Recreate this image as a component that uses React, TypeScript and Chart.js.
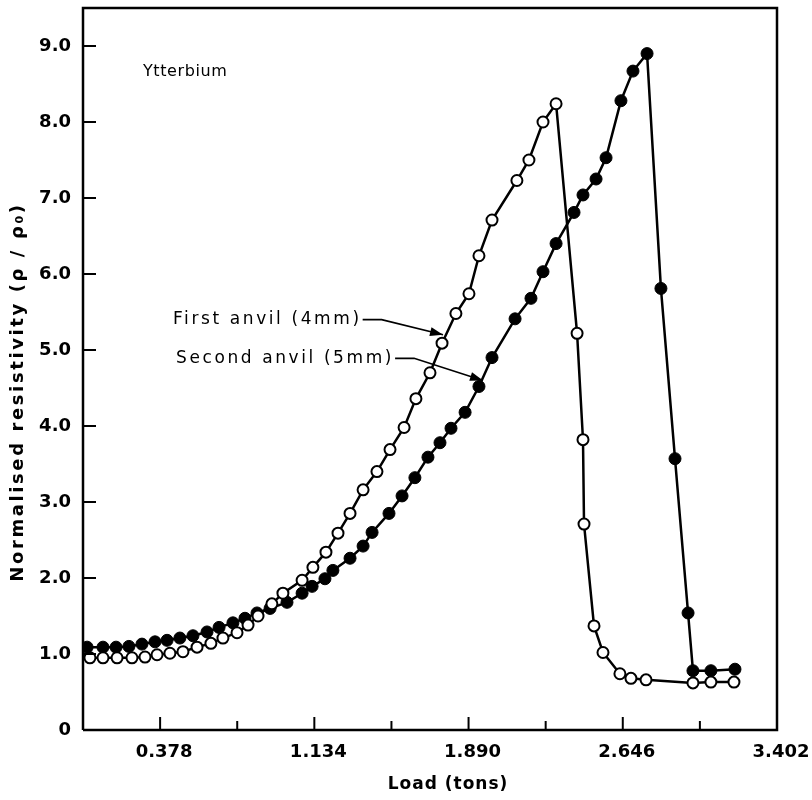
import React, { useEffect, useRef } from 'react';
import { Chart, registerables } from 'chart.js';

Chart.register(...registerables);

// ---- Data ----
const xTickValues = [0, 0.378, 0.756, 1.134, 1.512, 1.89, 2.268, 2.646, 3.024, 3.402];
const xTickLabels = ['', '0.378', '', '1.134', '', '1.890', '', '2.646', '', '3.402'];
const yTickValues = [0, 1, 2, 3, 4, 5, 6, 7, 8, 9];
const yTickLabels = ['0', '1.0', '2.0', '3.0', '4.0', '5.0', '6.0', '7.0', '8.0', '9.0'];

const firstAnvilLoad = [0.034, 0.098, 0.167, 0.24, 0.304, 0.363, 0.426, 0.49, 0.559, 0.627, 0.686, 0.755, 0.809, 0.858, 0.926, 0.98, 1.074, 1.127, 1.191, 1.25, 1.309, 1.373, 1.441, 1.505, 1.574, 1.632, 1.701, 1.76, 1.828, 1.892, 1.941, 2.005, 2.127, 2.186, 2.255, 2.319, 2.422, 2.451, 2.456, 2.505, 2.549, 2.632, 2.686, 2.76, 2.99, 3.078, 3.191];
const firstAnvilRes = [0.95, 0.95, 0.95, 0.95, 0.96, 0.99, 1.01, 1.03, 1.09, 1.14, 1.21, 1.28, 1.38, 1.5, 1.66, 1.8, 1.97, 2.14, 2.34, 2.59, 2.85, 3.16, 3.4, 3.69, 3.98, 4.36, 4.7, 5.09, 5.48, 5.74, 6.24, 6.71, 7.23, 7.5, 8.0, 8.24, 5.22, 3.82, 2.71, 1.37, 1.02, 0.74, 0.68, 0.66, 0.62, 0.63, 0.63];

const secondAnvilLoad = [0.02, 0.098, 0.162, 0.225, 0.289, 0.353, 0.412, 0.475, 0.539, 0.608, 0.667, 0.735, 0.794, 0.853, 0.917, 1.0, 1.074, 1.123, 1.186, 1.225, 1.309, 1.373, 1.417, 1.5, 1.564, 1.627, 1.691, 1.75, 1.804, 1.873, 1.941, 2.005, 2.118, 2.196, 2.255, 2.319, 2.407, 2.451, 2.515, 2.564, 2.637, 2.696, 2.765, 2.833, 2.902, 2.966, 2.99, 3.078, 3.196];
const secondAnvilRes = [1.09, 1.09, 1.09, 1.1, 1.13, 1.16, 1.18, 1.21, 1.24, 1.29, 1.35, 1.41, 1.47, 1.54, 1.6, 1.68, 1.8, 1.89, 1.99, 2.1, 2.26, 2.42, 2.6, 2.85, 3.08, 3.32, 3.59, 3.78, 3.97, 4.18, 4.52, 4.9, 5.41, 5.68, 6.03, 6.4, 6.81, 7.04, 7.25, 7.53, 8.28, 8.67, 8.9, 5.81, 3.57, 1.54, 0.78, 0.78, 0.8];

const chartTitle = 'Ytterbium';
const firstLabel = 'First anvil (4mm)';
const secondLabel = 'Second anvil (5mm)';
const xTitle = 'Load (tons)';
const yTitle = 'Normalised resistivity (\u03C1 / \u03C1\u2080)';

const toPoints = (xs: number[], ys: number[]) => xs.map((x, i) => ({ x, y: ys[i] }));

function drawArrow(ctx: CanvasRenderingContext2D, pts: [number, number][]) {
  ctx.save();
  ctx.strokeStyle = '#000';
  ctx.fillStyle = '#000';
  ctx.lineWidth = 1.6;
  ctx.beginPath();
  ctx.moveTo(pts[0][0], pts[0][1]);
  for (let i = 1; i < pts.length; i++) ctx.lineTo(pts[i][0], pts[i][1]);
  ctx.stroke();
  const [x1, y1] = pts[pts.length - 2];
  const [x2, y2] = pts[pts.length - 1];
  const ang = Math.atan2(y2 - y1, x2 - x1);
  const L = 13, W = 4.5;
  ctx.beginPath();
  ctx.moveTo(x2, y2);
  ctx.lineTo(x2 - L * Math.cos(ang) + W * Math.sin(ang), y2 - L * Math.sin(ang) - W * Math.cos(ang));
  ctx.lineTo(x2 - L * Math.cos(ang) - W * Math.sin(ang), y2 - L * Math.sin(ang) + W * Math.cos(ang));
  ctx.closePath();
  ctx.fill();
  ctx.restore();
}

const decorPlugin = {
  id: 'decor',
  afterDraw(chart: any) {
    const { ctx, chartArea } = chart;
    const xs = chart.scales.x;
    const ys = chart.scales.y;
    const { left, right, top, bottom } = chartArea;
    ctx.save();
    ctx.strokeStyle = '#000';
    // frame
    ctx.lineWidth = 2.5;
    ctx.beginPath();
    ctx.moveTo(left, bottom);
    ctx.lineTo(left, top);
    ctx.lineTo(right, top);
    ctx.lineTo(right, bottom);
    ctx.lineTo(left, bottom);
    ctx.stroke();
    // inward ticks
    ctx.lineWidth = 2;
    xTickValues.forEach((v, i) => {
      if (i === 0 || i === xTickValues.length - 1) return;
      const px = xs.getPixelForValue(v);
      const len = xTickLabels[i] ? 13 : 9;
      ctx.beginPath();
      ctx.moveTo(px, bottom);
      ctx.lineTo(px, bottom - len);
      ctx.stroke();
    });
    yTickValues.forEach((v, i) => {
      if (i === 0) return;
      const py = ys.getPixelForValue(v);
      ctx.beginPath();
      ctx.moveTo(left, py);
      ctx.lineTo(left + 13, py);
      ctx.stroke();
    });

    ctx.fillStyle = '#000';
    ctx.textBaseline = 'middle';
    // axis titles
    (ctx as any).letterSpacing = '1px';
    ctx.font = 'bold 17px "DejaVu Sans"';
    ctx.textAlign = 'center';
    ctx.fillText(xTitle, 448, 785);
    ctx.save();
    ctx.translate(18, 392);
    ctx.rotate(-Math.PI / 2);
    (ctx as any).letterSpacing = '2.6px';
    ctx.font = 'bold 18px "DejaVu Sans"';
    ctx.fillText(yTitle, 0, 0);
    ctx.restore();

    // annotations
    ctx.textAlign = 'left';
    (ctx as any).letterSpacing = '0.6px';
    ctx.font = '16px "DejaVu Sans"';
    ctx.fillText(chartTitle, xs.getPixelForValue(0.294), ys.getPixelForValue(8.66));
    (ctx as any).letterSpacing = '2.6px';
    ctx.font = '17px "DejaVu Sans"';
    const P = (x: number, y: number): [number, number] => [xs.getPixelForValue(x), ys.getPixelForValue(y)];
    const [fx, fy] = P(0.441, 5.4);
    const [sx, sy] = P(0.456, 4.89);
    ctx.fillText(firstLabel, fx, fy);
    ctx.fillText(secondLabel, sx, sy);
    const fw = ctx.measureText(firstLabel).width;
    const sw = ctx.measureText(secondLabel).width;
    (ctx as any).letterSpacing = '0px';
    const [t1x, t1y] = P(1.765, 5.2);
    const [t2x, t2y] = P(1.961, 4.6);
    drawArrow(ctx, [[fx + fw + 1, fy], [fx + fw + 20, fy], [t1x, t1y]]);
    drawArrow(ctx, [[sx + sw + 1, sy], [sx + sw + 20, sy], [t2x, t2y]]);
    ctx.restore();
  },
};

export default function App() {
  const ref = useRef<HTMLCanvasElement | null>(null);
  useEffect(() => {
    if (!ref.current) return;
    const tickFont = { family: '"DejaVu Sans"', weight: 'bold' as const, size: 18 };
    const zeroPad = (s: any) => {
      s.paddingTop = 0;
      s.paddingBottom = 0;
      s.paddingLeft = 0;
      s.paddingRight = 0;
    };
    const chart = new Chart(ref.current, {
      type: 'scatter',
      data: {
        datasets: [
          {
            label: firstLabel,
            data: toPoints(firstAnvilLoad, firstAnvilRes),
            showLine: true,
            borderColor: '#000',
            borderWidth: 2.5,
            tension: 0,
            pointRadius: 5.5,
            pointBorderWidth: 2,
            pointBackgroundColor: '#fff',
            pointBorderColor: '#000',
            order: 0,
          },
          {
            label: secondLabel,
            data: toPoints(secondAnvilLoad, secondAnvilRes),
            showLine: true,
            borderColor: '#000',
            borderWidth: 2.5,
            tension: 0,
            pointRadius: 6,
            pointBorderWidth: 1,
            pointBackgroundColor: '#000',
            pointBorderColor: '#000',
            order: 1,
          },
        ],
      },
      options: {
        animation: false,
        responsive: false,
        layout: { padding: { top: 8, right: 35, left: 0, bottom: 0 } },
        plugins: { legend: { display: false }, tooltip: { enabled: false } },
        scales: {
          x: {
            type: 'linear',
            min: 0,
            max: 3.402,
            grid: { display: false, drawTicks: false },
            border: { display: false },
            afterBuildTicks: (s: any) => {
              s.ticks = xTickValues.map((v) => ({ value: v }));
            },
            afterFit: (s: any) => {
              s.height = 70;
              zeroPad(s);
            },
            ticks: {
              autoSkip: false,
              maxRotation: 0,
              padding: 12,
              labelOffset: 4,
              color: '#000',
              font: tickFont,
              callback: (_v: any, i: number) => xTickLabels[i],
            },
          },
          y: {
            type: 'linear',
            min: 0,
            max: 9.5,
            grid: { display: false, drawTicks: false },
            border: { display: false },
            afterBuildTicks: (s: any) => {
              s.ticks = yTickValues.map((v) => ({ value: v }));
            },
            afterFit: (s: any) => {
              s.width = 83;
              zeroPad(s);
            },
            ticks: {
              autoSkip: false,
              padding: 12,
              color: '#000',
              font: tickFont,
              callback: (_v: any, i: number) => yTickLabels[i],
            },
          },
        },
      },
      plugins: [decorPlugin],
    });
    return () => chart.destroy();
  }, []);
  return (
    <div style={{ position: 'fixed', left: 0, top: 0, width: 812, height: 800, background: '#fff' }}>
      <canvas ref={ref} width={812} height={800} style={{ width: 812, height: 800 }} />
    </div>
  );
}
